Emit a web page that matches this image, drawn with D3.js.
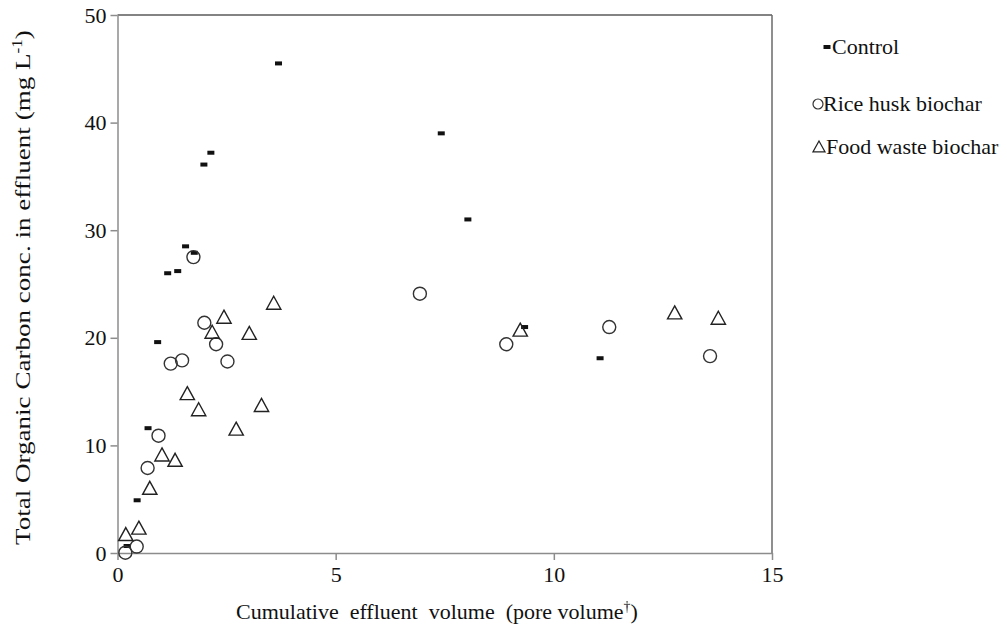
<!DOCTYPE html>
<html>
<head>
<meta charset="utf-8">
<script src="https://cdn.jsdelivr.net/npm/d3@7/dist/d3.min.js"></script>
<style>
  html, body { margin: 0; padding: 0; background: #fff; }
</style>
</head>
<body>
<svg id="chart" width="1007" height="633"></svg>
<script>
// ---- data ----
const seriesNames = ["Control", "Rice husk biochar", "Food waste biochar"];

const controlX = [0.22, 0.45, 0.70, 0.92, 1.15, 1.38, 1.56, 1.76, 1.98, 2.14, 3.69, 7.42, 8.03, 9.33, 11.06];
const controlY = [0.65, 4.9, 11.6, 19.6, 26.0, 26.2, 28.5, 27.9, 36.1, 37.2, 45.5, 39.0, 31.0, 21.0, 18.1];

const riceX = [0.18, 0.44, 0.69, 0.94, 1.22, 1.48, 1.74, 1.99, 2.26, 2.52, 6.93, 8.91, 11.27, 13.58];
const riceY = [0.03, 0.6, 7.9, 10.9, 17.6, 17.9, 27.5, 21.4, 19.4, 17.8, 24.1, 19.4, 21.0, 18.3];

const foodX = [0.19, 0.49, 0.74, 1.02, 1.32, 1.60, 1.86, 2.17, 2.44, 2.72, 3.02, 3.30, 3.58, 9.23, 12.77, 13.77];
const foodY = [1.7, 2.3, 6.0, 9.1, 8.6, 14.8, 13.3, 20.5, 21.9, 11.5, 20.4, 13.7, 23.2, 20.7, 22.3, 21.8];

const xTicks = [0, 5, 10, 15];
const yTicks = [0, 10, 20, 30, 40, 50];

(function () {
const FONT = '"Liberation Serif", "Times New Roman", "DejaVu Serif", serif';
const svg = d3.select("#chart");
const pL = 117.5, pR = 772, pT = 15, pB = 553;
const x = d3.scaleLinear().domain([0, 15]).range([pL, pR]);
const y = d3.scaleLinear().domain([0, 50]).range([pB, pT]);

const zip = (xs, ys) => xs.map((v, i) => ({x: v, y: ys[i]}));
const control = zip(controlX, controlY);
const rice = zip(riceX, riceY);
const food = zip(foodX, foodY);

// frame (top and right)
svg.append("line").attr("x1", pL).attr("x2", pR).attr("y1", pT).attr("y2", pT)
  .attr("stroke", "#5a5a5a").attr("stroke-width", 1.5);
svg.append("line").attr("x1", pR).attr("x2", pR).attr("y1", pT).attr("y2", pB)
  .attr("stroke", "#6a6a6a").attr("stroke-width", 1.5);

// axes
const xAxis = svg.append("g").attr("transform", `translate(0,${pB})`)
  .call(d3.axisBottom(x).tickValues(xTicks).tickSize(7).tickSizeOuter(0).tickPadding(6));
const yAxis = svg.append("g").attr("transform", `translate(${pL},0)`)
  .call(d3.axisLeft(y).tickValues(yTicks).tickSize(7).tickSizeOuter(0).tickPadding(4));
[xAxis, yAxis].forEach(g => {
  g.attr("font-family", FONT).attr("font-size", 22);
  g.select(".domain").attr("stroke", "#8c8c8c").attr("stroke-width", 1.5);
  g.selectAll(".tick line").attr("stroke", "#8c8c8c").attr("stroke-width", 1.5);
  g.selectAll(".tick text").attr("fill", "#111").attr("font-family", FONT).attr("font-size", 22);
});

// axis titles
const xt = svg.append("text").attr("x", 236).attr("y", 619)
  .attr("font-family", FONT).attr("font-size", 22)
  .attr("fill", "#111").attr("xml:space", "preserve").style("white-space", "pre");
xt.append("tspan").text("Cumulative  effluent  volume  (pore volume");
xt.append("tspan").attr("dy", -8).attr("font-size", 14).text("†");
xt.append("tspan").attr("dy", 8).text(")");

const yt = svg.append("text").attr("transform", "translate(30,545) rotate(-90)")
  .attr("font-family", FONT).attr("font-size", 22).attr("fill", "#111");
yt.append("tspan").text("Total Organic Carbon conc. in effluent (mg L");
yt.append("tspan").attr("dy", -8).attr("font-size", 14).text("-1");
yt.append("tspan").attr("dy", 8).text(")");
const ytLen = yt.node().getComputedTextLength();
if (ytLen > 0) yt.attr("transform", `translate(30,545) rotate(-90) scale(${515 / ytLen},1)`);

// markers
const triPath = s => `M0,${-s * 0.55}L${s * 0.55},${s * 0.45}L${-s * 0.55},${s * 0.45}Z`;

svg.append("g").selectAll("rect").data(control).join("rect")
  .attr("x", d => x(d.x) - 3.5).attr("y", d => y(d.y) - 2)
  .attr("width", 7).attr("height", 4).attr("fill", "#111");

svg.append("g").selectAll("circle").data(rice).join("circle")
  .attr("cx", d => x(d.x)).attr("cy", d => y(d.y)).attr("r", 6.5)
  .attr("fill", "none").attr("stroke", "#333").attr("stroke-width", 1.4);

svg.append("g").selectAll("path").data(food).join("path")
  .attr("transform", d => `translate(${x(d.x)},${y(d.y)})`)
  .attr("d", triPath(13)).attr("fill", "none").attr("stroke", "#222").attr("stroke-width", 1.4);

// legend
const lg = svg.append("g");
const legendRows = [
  {name: seriesNames[0], mx: 827, my: 47, tx: 832},
  {name: seriesNames[1], mx: 818, my: 104, tx: 823},
  {name: seriesNames[2], mx: 819, my: 147, tx: 826}
];
lg.append("rect").attr("x", legendRows[0].mx - 3.5).attr("y", legendRows[0].my - 2)
  .attr("width", 7).attr("height", 4).attr("fill", "#111");
lg.append("circle").attr("cx", legendRows[1].mx).attr("cy", legendRows[1].my).attr("r", 5)
  .attr("fill", "none").attr("stroke", "#333").attr("stroke-width", 1.2);
lg.append("path").attr("transform", `translate(${legendRows[2].mx},${legendRows[2].my})`)
  .attr("d", triPath(11)).attr("fill", "none").attr("stroke", "#222").attr("stroke-width", 1.2);
lg.selectAll("text").data(legendRows).join("text")
  .attr("x", d => d.tx).attr("y", d => d.my + 7)
  .attr("font-family", FONT).attr("font-size", 22)
  .attr("fill", "#111").text(d => d.name);
})();
</script>
</body>
</html>
